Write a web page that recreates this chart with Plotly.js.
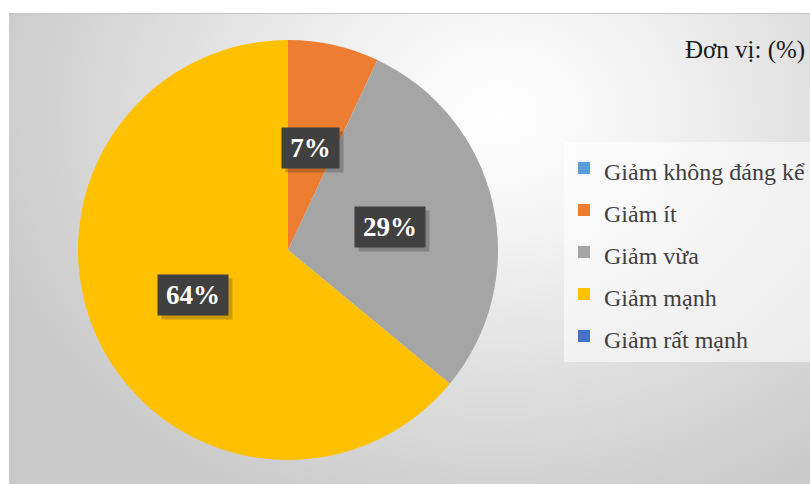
<!DOCTYPE html>
<html>
<head>
<meta charset="utf-8">
<script src="https://cdn.plot.ly/plotly-3.0.1.min.js"></script>
<style>
  html, body { margin: 0; padding: 0; background: #ffffff; }
  #wrap { position: relative; width: 810px; height: 484px; background: #ffffff; }
  #bg { position: absolute; left: 9px; top: 13px; width: 801px; height: 471px;
        background: radial-gradient(ellipse 540px 440px at 490px 100px, #ffffff 0%, #f3f3f3 28%, #dedede 62%, #c9c9c9 100%);
        border-top: 1px solid #c4c4c4; }
  #chart { position: absolute; left: 0; top: 0; width: 810px; height: 484px; }
</style>
</head>
<body>
<div id="wrap"><div id="bg"></div><div id="chart"></div></div>
<script>
const categories = ["Giảm không đáng kể", "Giảm ít", "Giảm vừa", "Giảm mạnh", "Giảm rất mạnh"];
const values = [0, 7, 29, 64, 0];
const colors = ["#5B9BD5", "#ED7D31", "#A5A5A5", "#FFC000", "#4472C4"];
const unitLabel = "Đơn vị: (%)";

const W = 810, H = 484;
const cx = 288, cy = 250, R = 210;
const SERIF = "Liberation Serif";

const trace = {
  type: "pie",
  labels: categories.map(c => "<span style='font-size:24px'>" + c + "</span>"),
  values: values,
  sort: false,
  direction: "clockwise",
  rotation: 0,
  marker: { colors: colors, line: { width: 0 } },
  textinfo: "none",
  hoverinfo: "label+percent",
  domain: { x: [(cx - R) / W, (cx + R) / W], y: [1 - (cy + R) / H, 1 - (cy - R) / H] },
  showlegend: true
};

const total = values.reduce((a, b) => a + b, 0);
const annotations = [];
let cum = 0;
values.forEach((v, i) => {
  if (v > 0) {
    const mid = (cum + v / 2) / total * 2 * Math.PI;
    const px = cx + 0.5 * R * Math.sin(mid);
    const py = cy - 0.5 * R * Math.cos(mid);
    const txt = Math.round(v / total * 100) + "%";
    const bw = 31 + 13 * txt.length;
    // drop shadow box
    annotations.push({
      xref: "paper", yref: "paper", x: (px + 4) / W, y: 1 - (py + 4) / H,
      xanchor: "center", yanchor: "middle",
      text: " ", width: bw, height: 40, showarrow: false, bgcolor: "rgba(0,0,0,0.2)", borderpad: 0,
      font: { family: SERIF, size: 10, color: "rgba(0,0,0,0)" }
    });
    annotations.push({
      xref: "paper", yref: "paper", x: px / W, y: 1 - py / H,
      xanchor: "center", yanchor: "middle",
      text: "<b>" + txt + "</b>", width: bw, height: 40, showarrow: false,
      bgcolor: "#404040", borderpad: 0,
      font: { family: SERIF, size: 27, color: "#ffffff" }
    });
  }
  cum += v;
});
annotations.push({
  xref: "paper", yref: "paper", x: 807 / W, y: 1 - 50 / H, xanchor: "right", yanchor: "middle",
  text: unitLabel, showarrow: false,
  font: { family: SERIF, size: 25, color: "#1a1a1a" }
});

const layout = {
  width: W, height: H,
  margin: { l: 0, r: 0, t: 0, b: 0 },
  paper_bgcolor: "rgba(0,0,0,0)",
  plot_bgcolor: "rgba(0,0,0,0)",
  showlegend: true,
  legend: {
    x: 564 / W, y: 1 - 142 / H, xanchor: "left", yanchor: "top",
    bgcolor: "rgba(255,255,255,0.55)", borderwidth: 0,
    font: { family: SERIF, size: 30, color: "#404040" },
    traceorder: "normal", itemwidth: 30
  },
  annotations: annotations
};

Plotly.newPlot("chart", [trace], layout, { displayModeBar: false, staticPlot: true });
</script>
</body>
</html>
